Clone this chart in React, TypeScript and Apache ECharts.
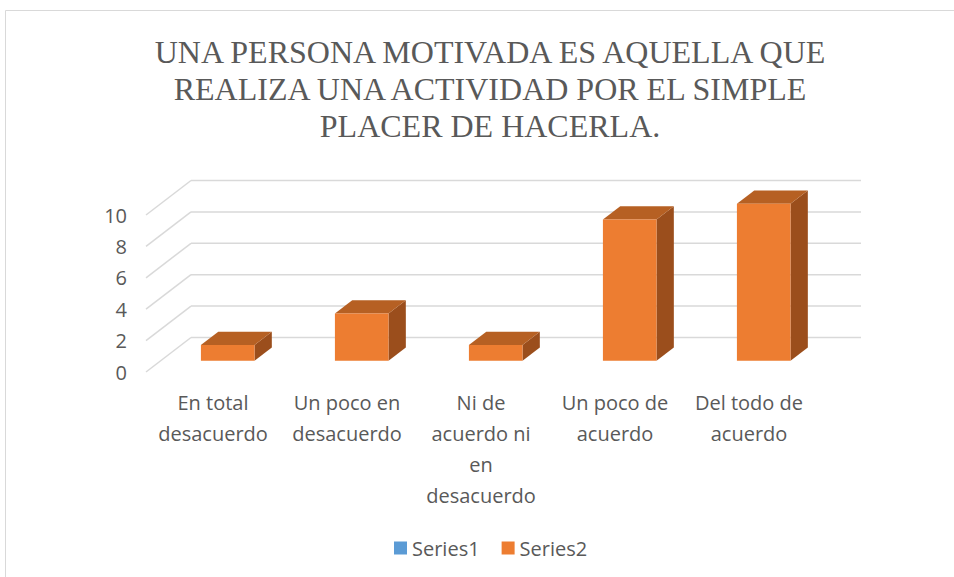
import React, { useEffect, useRef } from 'react';
import * as echarts from 'echarts';

const titleText = 'UNA PERSONA MOTIVADA ES AQUELLA QUE\nREALIZA UNA ACTIVIDAD POR EL SIMPLE\nPLACER DE HACERLA.';
const categories = [
  'En total\ndesacuerdo',
  'Un poco en\ndesacuerdo',
  'Ni de\nacuerdo ni\nen\ndesacuerdo',
  'Un poco de\nacuerdo',
  'Del todo de\nacuerdo',
];
const series1Values: number[] = [];
const series2Values = [1, 3, 1, 9, 10];
const yTicks = [0, 2, 4, 6, 8, 10];
const seriesNames = ['Series1', 'Series2'];

const DX = 45;
const DY = 34.5;
const GRID_COLOR = '#d9d9d9';
const TEXT_COLOR = '#595959';
const FONT = 'Open Sans';
const SERIF = 'Liberation Serif, Times New Roman, DejaVu Serif, serif';

export default function App() {
  const ref = useRef<HTMLDivElement>(null);
  useEffect(() => {
    if (!ref.current) return;
    const chart = echarts.init(ref.current, undefined, { renderer: 'svg' });
    const option: any = {
      animation: false,
      backgroundColor: '#ffffff',
      textStyle: { fontFamily: FONT },
      graphic: [
        {
          type: 'rect',
          shape: { x: 5.5, y: 10.5, width: 1000, height: 1000 },
          style: { fill: 'none', stroke: GRID_COLOR, lineWidth: 1 },
          silent: true,
        },
        {
          type: 'text',
          x: 490,
          y: 33,
          silent: true,
          style: {
            text: titleText,
            fontFamily: SERIF,
            fontSize: 32,
            fontWeight: 'normal',
            fill: TEXT_COLOR,
            lineHeight: 37,
            align: 'center',
            verticalAlign: 'top',
          },
        },
      ],
      legend: {
        data: seriesNames,
        left: 394,
        top: 538,
        padding: 0,
        itemWidth: 13,
        itemHeight: 13,
        itemGap: 22,
        icon: 'rect',
        textStyle: { fontFamily: FONT, fontSize: 20, color: TEXT_COLOR },
      },
      grid: { left: 146, top: 215, width: 670, height: 157, containLabel: false },
      xAxis: {
        type: 'category',
        data: categories,
        axisLine: { show: false },
        axisTick: { show: false },
        splitLine: { show: false },
        axisLabel: {
          interval: 0,
          margin: 15,
          fontFamily: FONT,
          fontSize: 20,
          lineHeight: 31,
          color: TEXT_COLOR,
        },
      },
      yAxis: {
        type: 'value',
        min: 0,
        max: 10,
        interval: 2,
        axisLine: { show: false },
        axisTick: { show: false },
        splitLine: { show: false },
        axisLabel: {
          margin: 19,
          fontFamily: FONT,
          fontSize: 20,
          color: TEXT_COLOR,
        },
      },
      series: [
        {
          type: 'custom',
          name: 'walls',
          silent: true,
          z: 1,
          data: yTicks.map((v) => [0, v]),
          encode: { x: 0, y: 1 },
          renderItem: (params: any, api: any) => {
            const v = api.value(1);
            const cs = params.coordSys;
            const y = api.coord([0, v])[1];
            const x0 = cs.x;
            const x1 = cs.x + cs.width;
            const st = { stroke: GRID_COLOR, lineWidth: 1.5 };
            return {
              type: 'group',
              children: [
                { type: 'line', shape: { x1: x0, y1: y, x2: x0 + DX, y2: y - DY }, style: st },
                { type: 'line', shape: { x1: x0 + DX, y1: y - DY, x2: x1 + DX, y2: y - DY }, style: st },
              ],
            };
          },
        },
        {
          type: 'custom',
          name: 'Series1',
          z: 2,
          itemStyle: { color: '#5B9BD5' },
          data: series1Values.map((v, i) => [i, v]),
          encode: { x: 0, y: 1 },
          renderItem: () => null,
        },
        {
          type: 'custom',
          name: 'Series2',
          z: 3,
          itemStyle: { color: '#ED7D31' },
          data: series2Values.map((v, i) => [i, v]),
          encode: { x: 0, y: 1 },
          renderItem: (params: any, api: any) => {
            const i = api.value(0);
            const v = api.value(1);
            const base = api.coord([i, 0]);
            const top = api.coord([i, v]);
            const band = api.size([1, 0])[0];
            const w = band * 0.4;
            const px = DX * 0.327;
            const py = DY * 0.327;
            const cx = base[0] + px;
            const L = cx - w / 2;
            const R = cx + w / 2;
            const B = base[1] - py;
            const T = top[1] - py;
            const ddx = DX * 0.385;
            const ddy = DY * 0.385;
            return {
              type: 'group',
              children: [
                {
                  type: 'polygon',
                  shape: { points: [[R, T], [R + ddx, T - ddy], [R + ddx, B - ddy], [R, B]] },
                  style: { fill: '#9B4E1C' },
                },
                {
                  type: 'polygon',
                  shape: { points: [[L, T], [R, T], [R + ddx, T - ddy], [L + ddx, T - ddy]] },
                  style: { fill: '#B66023' },
                },
                {
                  type: 'rect',
                  shape: { x: L, y: T, width: w, height: B - T },
                  style: { fill: '#ED7D31' },
                },
              ],
            };
          },
        },
      ],
    };
    chart.setOption(option);
    return () => chart.dispose();
  }, []);
  return (
    <div
      ref={ref}
      style={{ position: 'fixed', left: 0, top: 0, width: 954, height: 577 }}
    />
  );
}
